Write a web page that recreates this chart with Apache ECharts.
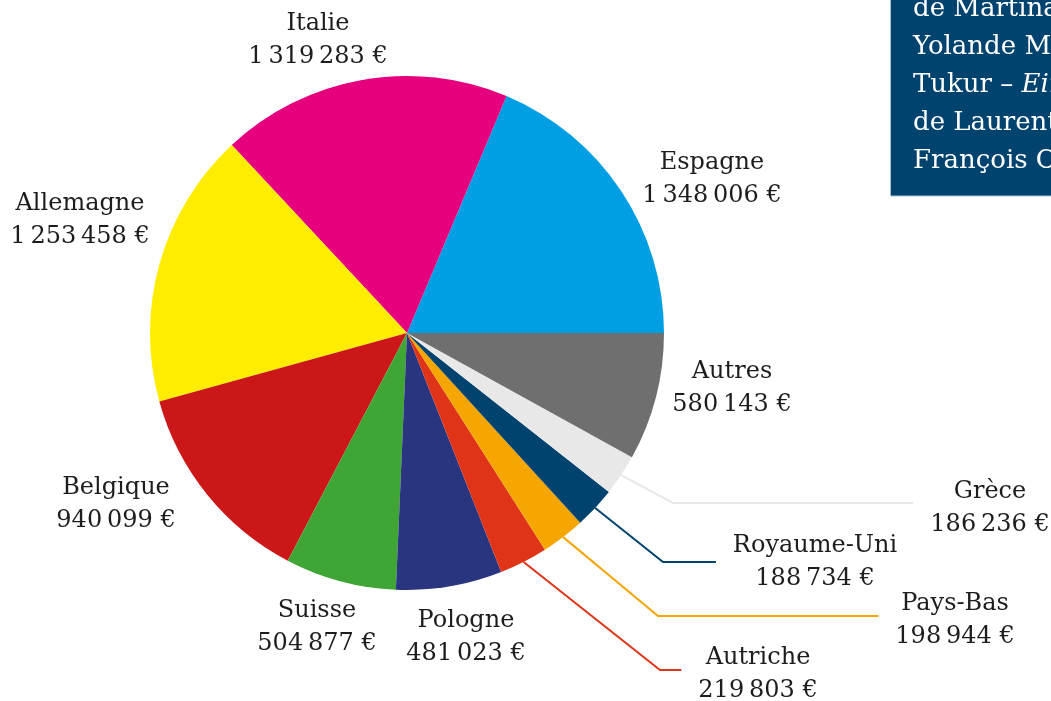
<!DOCTYPE html>
<html>
<head>
<meta charset="utf-8">
<script src="https://cdn.jsdelivr.net/npm/echarts@6/dist/echarts.min.js"></script>
<style>
html, body { margin: 0; padding: 0; background: #fff; }
#main { width: 1051px; height: 701px; }
</style>
</head>
<body>
<div id="main"></div>
<script>
// montants par pays (€), dans l'ordre du camembert
var pays = ['Espagne', 'Italie', 'Allemagne', 'Belgique', 'Suisse', 'Pologne',
            'Autriche', 'Pays-Bas', 'Royaume-Uni', 'Grèce', 'Autres'];
var montants = [1348006, 1319283, 1253458, 940099, 504877, 481023,
                219803, 198944, 188734, 186236, 580143];
var couleurs = ['#009FE3', '#E6007E', '#FFED00', '#CC1719', '#3FA535', '#2A3580',
                '#DF3417', '#F5A600', '#00436E', '#E8E8E8', '#6F6F6F'];

// placement des étiquettes (centre du bloc) et coudes des traits de rappel
var labelPos = [[712, 179], [318, 40], [80, 220], [116, 504], [317, 627], [466, 637],
                [758, 674], [955, 620], [815, 562], [990, 508], [732, 388]];
var leaders = [null, null, null, null, null, null,
               [660, 670], [658, 616], [663, 562], [673, 503], null];

function euros(v) {
  var s = String(v);
  var out = '';
  while (s.length > 3) {
    out = '\u2009' + s.slice(-3) + out;
    s = s.slice(0, -3);
  }
  return s + out + ' €';
}

var data = [];
for (var i = 0; i < pays.length; i++) {
  data.push({
    name: pays[i],
    value: montants[i],
    itemStyle: { color: couleurs[i] },
    labelLine: { show: leaders[i] != null, lineStyle: { width: 2, color: couleurs[i] } }
  });
}

var myChart = echarts.init(document.getElementById('main'));
var option = {
  animation: false,
  graphic: [
    {
      type: 'rect',
      shape: { x: 890.5, y: -2, width: 170, height: 198 },
      style: { fill: '#00436E', stroke: '#A7C1D8', lineWidth: 1 },
      z: 10
    },
    {
      type: 'text',
      x: 913,
      y: -10,
      z: 11,
      style: {
        text: '{a|de Martina Gedeck,}\n{a|Yolande Moreau, Ulrich}\n{a|Tukur – }{i|Eine Frau}\n{a|de Laurent Cantet,}\n{a|François Ozon}',
        verticalAlign: 'top',
        rich: {
          a: { fill: '#fff', fontSize: 26, fontFamily: 'DejaVu Serif', lineHeight: 38 },
          i: { fill: '#fff', fontSize: 26, fontFamily: 'DejaVu Serif', fontStyle: 'italic', lineHeight: 38 }
        }
      }
    }
  ],
  series: [{
    type: 'pie',
    center: [407, 333],
    radius: 257,
    startAngle: 0,
    clockwise: false,
    avoidLabelOverlap: false,
    silent: true,
    itemStyle: { borderWidth: 0 },
    label: {
      show: true,
      position: 'outside',
      color: '#1d1d1d',
      fontFamily: 'DejaVu Serif',
      fontSize: 24,
      lineHeight: 33,
      formatter: function (p) {
        return p.name + '\n' + euros(p.value);
      }
    },
    labelLine: {
      length: 40,
      length2: 40,
      smooth: false,
      lineStyle: { width: 2 }
    },
    labelLayout: function (p) {
      var k = p.dataIndex;
      var pos = labelPos[k];
      var res = { x: pos[0], y: pos[1], align: 'center', verticalAlign: 'middle' };
      var ld = leaders[k];
      if (ld && p.labelLinePoints) {
        var pts = p.labelLinePoints;
        res.labelLinePoints = [
          pts[0],
          [ld[0], ld[1]],
          [pos[0] - p.labelRect.width / 2 - 17, ld[1]]
        ];
      }
      return res;
    },
    data: data
  }]
};
myChart.setOption(option);
window.addEventListener('resize', function () {
  myChart.resize();
});
</script>
</body>
</html>
